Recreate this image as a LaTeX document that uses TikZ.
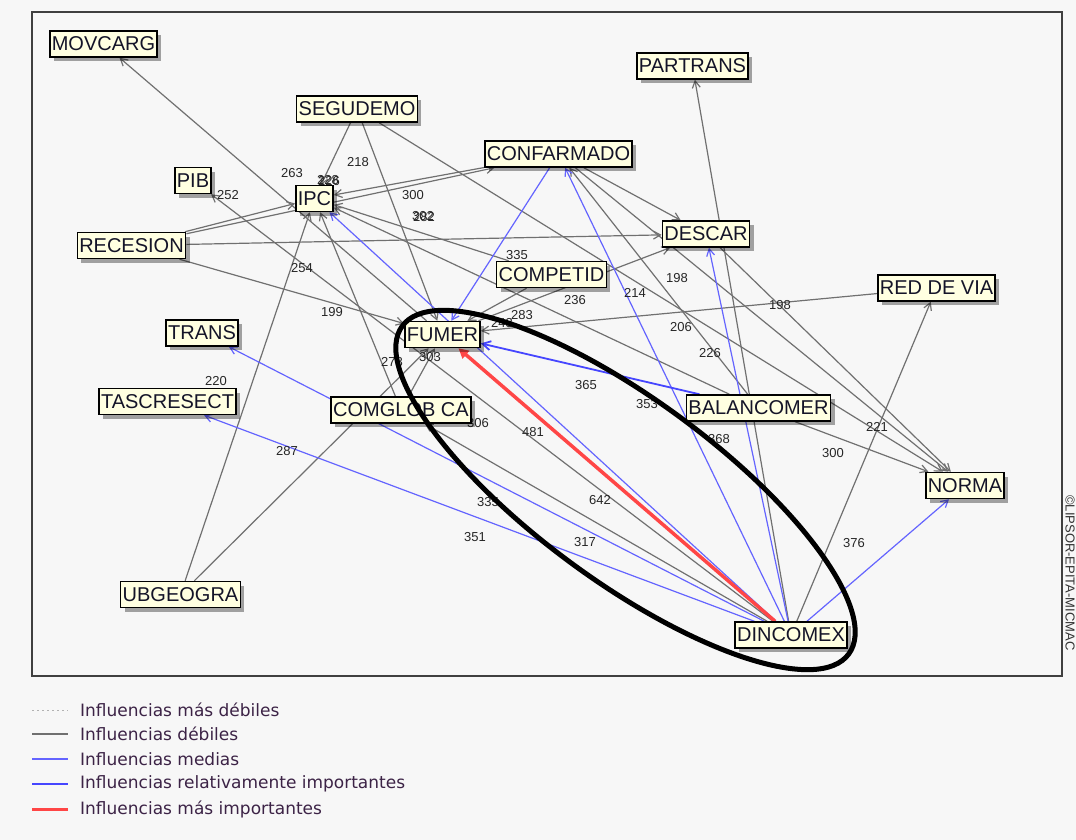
\documentclass[tikz,border=0pt]{standalone}
\usepackage{fontspec}
\setmainfont{Liberation Sans}
\newfontfamily\legfont{DejaVu Sans}
\usetikzlibrary{arrows.meta,shadows}
\pgfdeclarelayer{bg}
\pgfdeclarelayer{edges}
\pgfdeclarelayer{fg}
\pgfsetlayers{bg,edges,main,fg}
\definecolor{bgc}{RGB}{247,247,247}
\definecolor{framec}{RGB}{64,64,64}
\definecolor{boxc}{RGB}{255,255,225}
\definecolor{greyl}{RGB}{112,112,112}
\definecolor{bluel}{RGB}{100,100,255}
\definecolor{blueh}{RGB}{70,70,255}
\definecolor{redl}{RGB}{255,70,70}
\definecolor{legtext}{RGB}{60,35,70}
\definecolor{txt}{RGB}{20,20,40}
\begin{document}
\begin{tikzpicture}[x=1pt,y=-1pt,
  var/.style={draw=black,line width=1.5pt,fill=boxc,inner xsep=2pt,inner ysep=0pt,
    minimum height=26pt,font=\fontsize{20}{22}\selectfont,text=txt,
    drop shadow={shadow xshift=4pt,shadow yshift=-4pt,opacity=0.35,fill=black}},
  val/.style={font=\fontsize{13}{14}\selectfont,text=black!85,inner sep=0pt},
  weak/.style={draw=greyl,line width=1.2pt,-{Straight Barb[length=7pt,width=8pt]}},
  mid/.style={draw=bluel,line width=1.2pt,-{Straight Barb[length=7pt,width=8pt]}},
  relimp/.style={draw=blueh,line width=1.8pt,-{Straight Barb[length=8pt,width=9pt]}},
  strong/.style={draw=redl,line width=3.5pt,-{Triangle[length=10pt,width=10pt]}},
  leg/.style={font=\legfont\fontsize{17}{19}\selectfont,text=legtext,anchor=west,inner sep=0pt},
]
\useasboundingbox (0,0) rectangle (1076,840);
\begin{pgfonlayer}{bg}
\fill[bgc] (0,0) rectangle (1076,840);
\draw[framec,line width=2pt] (32,12) rectangle (1062,676);
\end{pgfonlayer}

% variables
\node[var] (MOVCARG) at (103.5,44) {MOVCARG};
\node[var] (SEGUDEMO) at (357,109) {SEGUDEMO};
\node[var] (PARTRANS) at (692.5,66) {PARTRANS};
\node[var] (CONFARMADO) at (558.5,154) {CONFARMADO};
\node[var] (PIB) at (193,180.5) {PIB};
\node[var] (IPC) at (314.5,198.5) {IPC};
\node[var] (RECESION) at (131.5,245.5) {RECESION};
\node[var] (DESCAR) at (706,234) {DESCAR};
\node[var] (COMPETID) at (551.5,274.5) {COMPETID};
\node[var] (REDDEVIA) at (936.5,288) {RED DE VIA};
\node[var] (FUMER) at (442.5,334.5) {FUMER};
\node[var] (TRANS) at (202,333) {TRANS};
\node[var] (TASCRESECT) at (167.5,401.5) {TASCRESECT};
\node[var] (COMGLOB) at (401,410) {COMGLOB CA};
\node[var] (BALANCOMER) at (758.5,408) {BALANCOMER};
\node[var] (NORMA) at (965,485.5) {NORMA};
\node[var] (UBGEOGRA) at (180.5,594.5) {UBGEOGRA};
\node[var] (DINCOMEX) at (791,635) {DINCOMEX};

\begin{pgfonlayer}{edges}
% weak influences
\draw[weak] (FUMER) -- (MOVCARG);
\draw[weak] (DINCOMEX) -- (PIB);
\draw[weak] (DINCOMEX) -- (COMGLOB);
\draw[weak] (DINCOMEX) -- (PARTRANS);
\draw[weak] (DINCOMEX) -- (REDDEVIA);
\draw[weak] (BALANCOMER) -- (IPC);
\draw[weak] (BALANCOMER) -- (NORMA);
\draw[weak] (BALANCOMER) -- (CONFARMADO);
\draw[weak] (REDDEVIA) -- (FUMER);
\draw[weak] (RECESION) -- (FUMER);
\draw[weak] (RECESION) -- (DESCAR);
\draw[weak] (RECESION) -- (IPC);
\draw[weak] (RECESION) -- (CONFARMADO);
\draw[weak] (CONFARMADO) -- (IPC);
\draw[weak] (SEGUDEMO) -- (IPC);
\draw[weak] (SEGUDEMO) -- (FUMER);
\draw[weak] (SEGUDEMO) -- (NORMA);
\draw[weak] (CONFARMADO) -- (DESCAR);
\draw[weak] (CONFARMADO) -- (NORMA);
\draw[weak] (DESCAR) -- (NORMA);
\draw[weak] (FUMER) -- (DESCAR);
\draw[weak] (COMPETID) -- (FUMER);
\draw[weak] (COMPETID) -- (IPC);
\draw[weak] (UBGEOGRA) -- (IPC);
\draw[weak] (UBGEOGRA) -- (FUMER);
\draw[weak] (COMGLOB) -- (IPC);
\draw[weak] (COMGLOB) -- (FUMER);
% medium influences
\draw[mid] (DINCOMEX) -- (IPC);
\draw[mid] (DINCOMEX) -- (TRANS);
\draw[mid] (DINCOMEX) -- (TASCRESECT);
\draw[mid] (DINCOMEX) -- (CONFARMADO);
\draw[mid] (DINCOMEX) -- (DESCAR);
\draw[mid] (DINCOMEX) -- (NORMA);
\draw[mid] (CONFARMADO) -- (FUMER);
\draw[relimp] (BALANCOMER) -- (FUMER);
% strongest influence
\draw[strong] (DINCOMEX) -- (FUMER);

% values
\node[val] (v252) at (228,195) {252};
\node[val] (v263) at (292,173) {263};
\node[val] (v228) at (328,180) {228};
\node[val] (v226a) at (329,181) {226};
\node[val] (v218) at (358,162) {218};
\node[val] (v300a) at (413,195) {300};
\node[val] (v302) at (423,216) {302};
\node[val] (v282) at (424,217) {282};
\node[val] (v335a) at (517,255) {335};
\node[val] (v254) at (302,268) {254};
\node[val] (v199) at (332,312) {199};
\node[val] (v236) at (575,300) {236};
\node[val] (v283) at (522,315) {283};
\node[val] (v243) at (502,323) {243};
\node[val] (v303) at (430,357) {303};
\node[val] (v278) at (392,362) {278};
\node[val] (v214) at (635,293) {214};
\node[val] (v198a) at (677,278) {198};
\node[val] (v198b) at (780,305) {198};
\node[val] (v206) at (681,327) {206};
\node[val] (v226b) at (710,353) {226};
\node[val] (v365) at (586,385) {365};
\node[val] (v353) at (647,404) {353};
\node[val] (v368) at (719,439) {368};
\node[val] (v300b) at (833,453) {300};
\node[val] (v221) at (877,427) {221};
\node[val] (v376) at (854,543) {376};
\node[val] (v481) at (533,432) {481};
\node[val] (v642) at (600,500) {642};
\node[val] (v335b) at (488,502) {335};
\node[val] (v351) at (475,537) {351};
\node[val] (v317) at (585,542) {317};
\node[val] (v287) at (287,451) {287};
\node[val] (v306) at (478,423) {306};
\node[val] (v220) at (216,381) {220};
\end{pgfonlayer}

\begin{pgfonlayer}{fg}
\draw[black,line width=5pt,rotate around={-36.3:(625.5,490)}] (625.5,490) ellipse [x radius=277, y radius=91];
\end{pgfonlayer}

% copyright
\node[rotate=-90,font=\fontsize{13}{14}\selectfont,text=black!80,inner sep=0pt] (copy) at (1070,573) {©LIPSOR-EPITA-MICMAC};

% legend
\draw[black!30,line width=1pt,dash pattern=on 2pt off 3pt] (32,710) -- (68,710);
\draw[greyl,line width=1.3pt] (32,734) -- (68,734);
\draw[bluel,line width=1.3pt] (32,759) -- (68,759);
\draw[blueh,line width=2.5pt] (32,784) -- (68,784);
\draw[redl,line width=3pt] (32,809) -- (68,809);
\node[leg] (L1) at (80,710) {Influencias más débiles};
\node[leg] (L2) at (80,734) {Influencias débiles};
\node[leg] (L3) at (80,759) {Influencias medias};
\node[leg] (L4) at (80,784) {Influencias relativamente importantes};
\node[leg] (L5) at (80,809) {Influencias más importantes};
\end{tikzpicture}
\end{document}
